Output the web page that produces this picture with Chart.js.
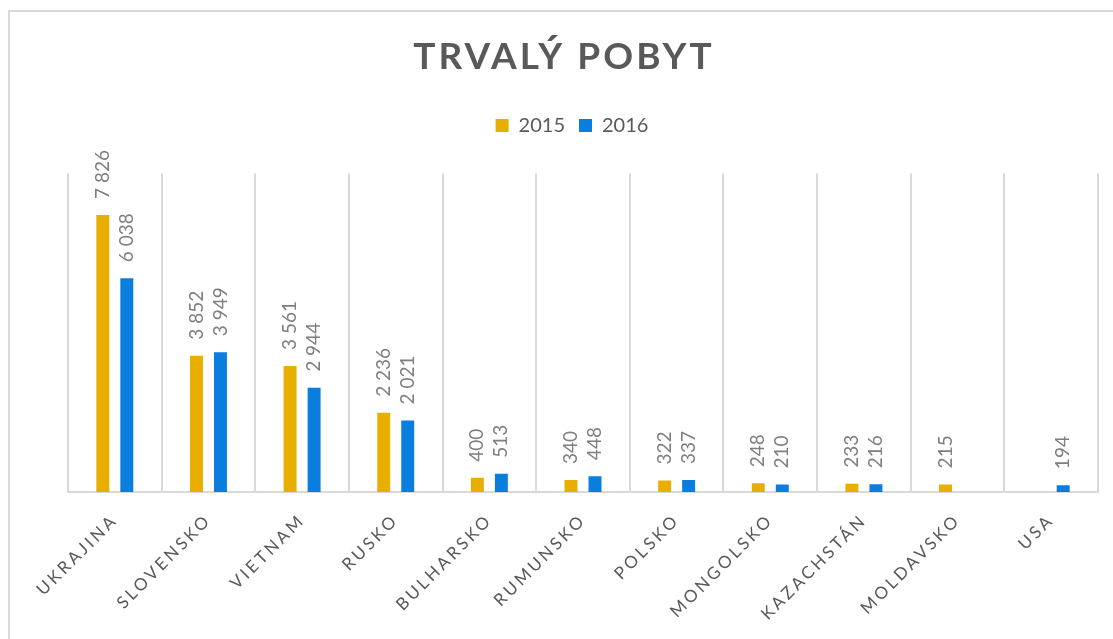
<!DOCTYPE html>
<html>
<head>
<meta charset="utf-8">
<script src="https://cdn.jsdelivr.net/npm/chart.js@4.4.0/dist/chart.umd.min.js"></script>
<style>
  body { margin: 0; background: #fff; overflow: hidden; }
  .frame {
    position: absolute; left: 8px; top: 10px; width: 1200px; height: 700px;
    border-left: 2px solid #d9d9d9; border-top: 2px solid #d9d9d9;
  }
  #chart { position: absolute; left: 0; top: 0; }
</style>
</head>
<body>
<div class="frame"></div>
<canvas id="chart" width="1113" height="639"></canvas>
<script>
const countries = ["UKRAJINA", "SLOVENSKO", "VIETNAM", "RUSKO", "BULHARSKO", "RUMUNSKO",
  "POLSKO", "MONGOLSKO", "KAZACHSTÁN", "MOLDAVSKO", "USA"];
const values2015 = [7826, 3852, 3561, 2236, 400, 340, 322, 248, 233, 215, null];
const values2016 = [6038, 3949, 2944, 2021, 513, 448, 337, 210, 216, null, 194];

const gold = "#e8af00";
const blue = "#0a7ede";
const textGray = "#595959";

// mezery jako oddělovač tisíců (7 826)
const fmt = (v) => String(v).replace(/\B(?=(\d{3})+(?!\d))/g, " ");

// Chart.js neumí letter-spacing, tak obalíme kreslení popisků osy a titulku
// a legendě přidáme místo pod sebou
const spacingPlugin = {
  id: "spacing",
  beforeLayout(chart) {
    const lg = chart.legend;
    if (lg && !lg._padded) {
      const fit = lg.fit.bind(lg);
      lg.fit = function () { fit(); this.height += 28; };
      lg._padded = true;
    }
  },
  afterLayout(chart) {
    const ctx = chart.ctx;
    const wrap = (obj, name, fn) => {
      if (!obj || obj["_sp_" + name]) return;
      const orig = obj[name].bind(obj);
      obj[name] = function (...args) {
        ctx.save();
        fn(ctx);
        orig(...args);
        ctx.restore();
      };
      obj["_sp_" + name] = true;
    };
    wrap(chart.scales.x, "drawLabels", (c) => { c.letterSpacing = "3px"; });
    wrap(chart.titleBlock, "draw", (c) => { c.letterSpacing = "3px"; });
    wrap(chart.legend, "draw", (c) => { c.translate(8, 0); });
  },
};

// popisky hodnot otočené o 90°
const valueLabels = {
  id: "valueLabels",
  afterDatasetsDraw(chart) {
    const ctx = chart.ctx;
    chart.data.datasets.forEach((ds, i) => {
      const meta = chart.getDatasetMeta(i);
      meta.data.forEach((bar, j) => {
        const v = ds.data[j];
        if (v == null) return;
        ctx.save();
        ctx.letterSpacing = "0px";
        ctx.translate(bar.x, bar.y - 16);
        ctx.rotate(-Math.PI / 2);
        ctx.font = "19px Lato";
        ctx.fillStyle = "#7f7f7f";
        ctx.textAlign = "left";
        ctx.textBaseline = "middle";
        ctx.fillText(fmt(v), 0, 0);
        ctx.restore();
      });
    });
  },
};

new Chart(document.getElementById("chart"), {
  type: "bar",
  data: {
    labels: countries,
    datasets: [
      { label: "2015", data: values2015, backgroundColor: gold },
      { label: "2016", data: values2016, backgroundColor: blue },
    ],
  },
  options: {
    responsive: false,
    animation: false,
    categoryPercentage: 0.513,
    barPercentage: 0.54,
    layout: { padding: { left: 30, right: 15, top: 10, bottom: 0 } },
    plugins: {
      title: {
        display: true,
        text: "TRVALÝ POBYT",
        color: textGray,
        font: { family: "Lato", size: 37, weight: "bold" },
        padding: { top: 25, bottom: 22 },
      },
      legend: {
        display: true,
        labels: {
          color: textGray,
          font: { family: "Lato", size: 20 },
          boxWidth: 13,
          boxHeight: 13,
          padding: 14,
        },
      },
      tooltip: { enabled: false },
    },
    scales: {
      x: {
        grid: { color: "#d9d9d9", lineWidth: 2, drawTicks: false, offset: true },
        border: { color: "#d9d9d9", width: 2 },
        ticks: {
          color: textGray,
          font: { family: "Lato", size: 17 },
          minRotation: 45,
          maxRotation: 45,
          autoSkip: false,
          padding: 18,
        },
        afterFit: (scale) => { scale.height = 147; },
      },
      y: {
        display: true,
        min: 0,
        max: 9000,
        grid: { display: false },
        border: { display: false },
        ticks: { display: false },
        afterFit: (scale) => { scale.width = 38; },
      },
    },
  },
  plugins: [spacingPlugin, valueLabels],
});
</script>
</body>
</html>
